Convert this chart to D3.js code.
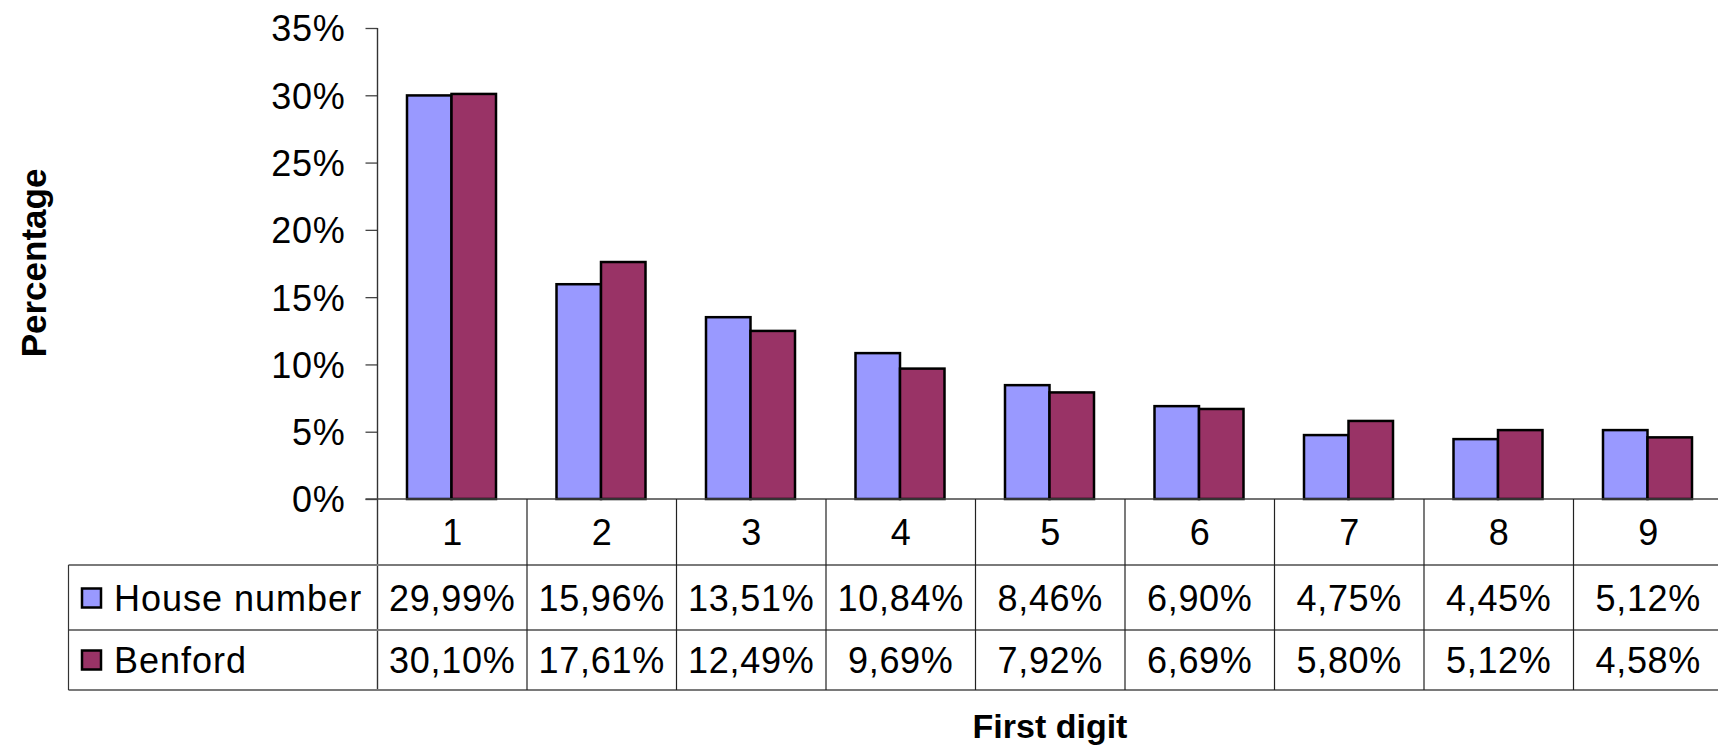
<!DOCTYPE html>
<html>
<head>
<meta charset="utf-8">
<script src="https://cdn.jsdelivr.net/npm/d3@7"></script>
<style>
  html, body { margin: 0; padding: 0; background: #fff; }
  svg { display: block; font-family: "Liberation Sans", Arial, sans-serif; }
</style>
</head>
<body>
<svg id="chart" width="1718" height="747"></svg>
<script>
// First-digit frequencies (percent)
const digits = ["1", "2", "3", "4", "5", "6", "7", "8", "9"];
const seriesNames = ["House number", "Benford"];
const houseNumber = [29.99, 15.96, 13.51, 10.84, 8.46, 6.90, 4.75, 4.45, 5.12];
const benford = [30.10, 17.61, 12.49, 9.69, 7.92, 6.69, 5.80, 5.12, 4.58];
const yTicks = [0, 5, 10, 15, 20, 25, 30, 35];
const colors = ["#9999FF", "#993366"];

const seriesValues = [houseNumber, benford];
const fmt = v => v.toFixed(2).replace(".", ",") + "%";

const svg = d3.select("#chart");

const plotLeft = 377.5, catWidth = 149.5;
const x = d3.scaleBand().domain(digits).range([plotLeft, plotLeft + catWidth * digits.length]).padding(0);
const xs = d3.scaleBand().domain(seriesNames).range([29.5, 118.5]).padding(0);
const y = d3.scaleLinear().domain([0, 35]).range([499, 28]);

const rowTop = 565, rowMid = 630, rowBottom = 690, tableLeft = 68.5;
const fontSize = 36, spacing = 0.7;

// Bars
seriesNames.forEach((name, si) => {
  svg.append("g").selectAll("rect")
    .data(digits.map((d, i) => ({ d, v: seriesValues[si][i] })))
    .join("rect")
    .attr("x", p => x(p.d) + xs(name))
    .attr("y", p => y(p.v))
    .attr("width", xs.bandwidth())
    .attr("height", p => y(0) - y(p.v))
    .attr("fill", colors[si])
    .attr("stroke", "#000")
    .attr("stroke-width", 2.5);
});

// Y axis
const yAxis = d3.axisLeft(y).tickValues(yTicks).tickSize(12).tickPadding(20).tickFormat(d => d + "%");
const ga = svg.append("g").attr("transform", `translate(${plotLeft},0)`).call(yAxis);
ga.select(".domain").remove();
ga.selectAll(".tick line").attr("stroke", "#444").attr("stroke-width", 1.3);
ga.selectAll(".tick text")
  .attr("font-size", fontSize)
  .attr("letter-spacing", spacing)
  .attr("fill", "#000")
  .attr("font-family", "Liberation Sans, Arial, sans-serif")
  .attr("dy", "0.36em");

// Vertical axis line, continuing down through the data table
svg.append("line")
  .attr("x1", plotLeft).attr("x2", plotLeft)
  .attr("y1", y(35)).attr("y2", rowBottom)
  .attr("stroke", "#333").attr("stroke-width", 1.4);

// Baseline
svg.append("line")
  .attr("x1", plotLeft - 12).attr("x2", 1718)
  .attr("y1", y(0)).attr("y2", y(0))
  .attr("stroke", "#444").attr("stroke-width", 1.6);

// Data table grid
const hLines = [rowTop, rowMid, rowBottom];
svg.append("g").selectAll("line").data(hLines).join("line")
  .attr("x1", tableLeft).attr("x2", 1718)
  .attr("y1", d => d).attr("y2", d => d)
  .attr("stroke", "#7a7a7a").attr("stroke-width", 2);

svg.append("line")
  .attr("x1", tableLeft).attr("x2", tableLeft)
  .attr("y1", rowTop).attr("y2", rowBottom)
  .attr("stroke", "#333").attr("stroke-width", 1.2);

svg.append("g").selectAll("line").data(digits.slice(1)).join("line")
  .attr("x1", d => x(d)).attr("x2", d => x(d))
  .attr("y1", y(0)).attr("y2", rowBottom)
  .attr("stroke", "#222").attr("stroke-width", 1.2);

// Category labels
svg.append("g").selectAll("text").data(digits).join("text")
  .attr("x", d => x(d) + x.bandwidth() / 2)
  .attr("y", 532)
  .attr("dy", "0.36em")
  .attr("text-anchor", "middle")
  .attr("font-size", fontSize)
  .text(d => d);

// Table rows: legend key, series name, values
const rowCenters = [598, 660];
seriesNames.forEach((name, si) => {
  const cy = rowCenters[si];
  svg.append("rect")
    .attr("x", 82).attr("y", cy - 9.5)
    .attr("width", 19).attr("height", 19)
    .attr("fill", colors[si])
    .attr("stroke", "#000").attr("stroke-width", 2.5);
  svg.append("text")
    .attr("x", 114).attr("y", cy).attr("dy", "0.36em")
    .attr("font-size", fontSize)
    .attr("letter-spacing", 1)
    .text(name);
  svg.append("g").selectAll("text").data(digits).join("text")
    .attr("x", d => x(d) + x.bandwidth() / 2)
    .attr("y", cy).attr("dy", "0.36em")
    .attr("text-anchor", "middle")
    .attr("font-size", fontSize)
    .attr("letter-spacing", spacing)
    .text((d, i) => fmt(seriesValues[si][i]));
});

// Axis titles
svg.append("text")
  .attr("transform", "translate(33,263) rotate(-90)")
  .attr("text-anchor", "middle")
  .attr("dy", "0.36em")
  .attr("font-size", 35)
  .attr("font-weight", "bold")
  .text("Percentage");

svg.append("text")
  .attr("x", 1050).attr("y", 726)
  .attr("dy", "0.36em")
  .attr("text-anchor", "middle")
  .attr("font-size", 34)
  .attr("font-weight", "bold")
  .text("First digit");
</script>
</body>
</html>
